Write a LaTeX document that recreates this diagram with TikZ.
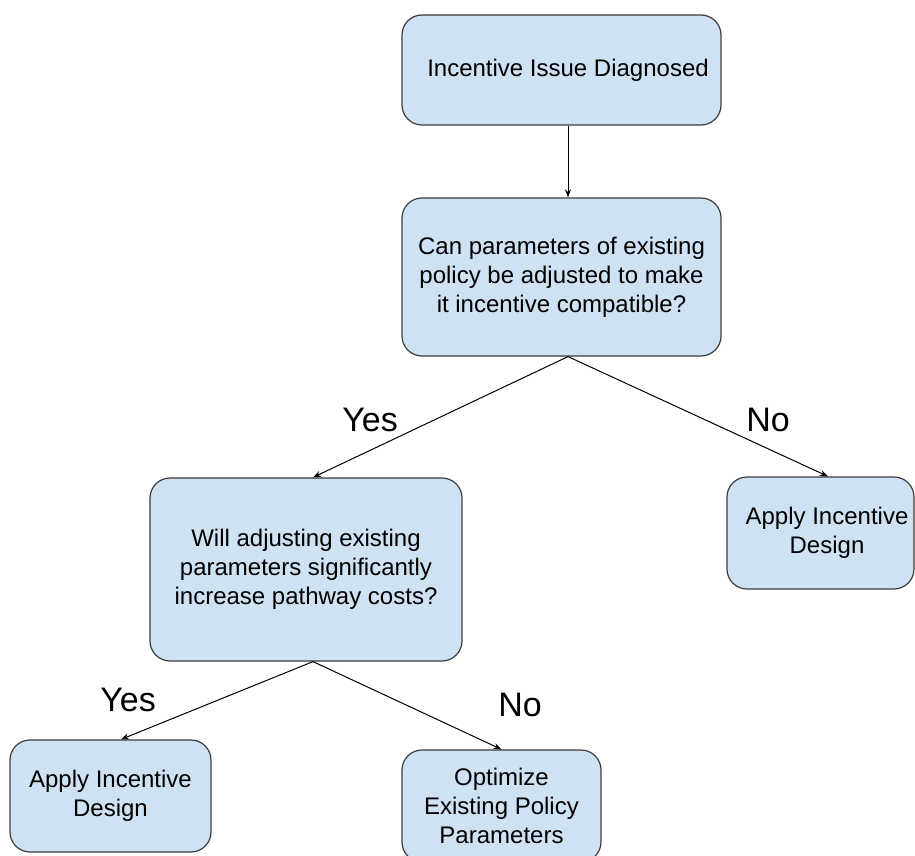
\documentclass[tikz,border=0pt]{standalone}
\usepackage{fontspec}
\setmainfont{Liberation Sans}
\usetikzlibrary{arrows.meta}
\definecolor{boxfill}{HTML}{CFE2F3}
\definecolor{boxline}{HTML}{3C3C3C}
% pushes a line of box text a little to the right
\newcommand{\nudge}{\hspace*{13pt}}
\tikzset{
  box/.style={draw=boxline, line width=1.2pt, fill=boxfill, rounded corners=20pt,
    align=center, inner sep=0pt, font=\fontsize{24}{29}\selectfont},
  arr/.style={draw=black, line width=1pt, -{Stealth[length=8pt,width=6pt]}},
  lbl/.style={font=\fontsize{34}{38}\selectfont, text=black},
}
\begin{document}
\begin{tikzpicture}[x=1pt, y=-1pt]
  \useasboundingbox (0,0) rectangle (915,856);
  \clip (0,0) rectangle (915,856);

  % decision boxes
  \node[box, minimum width=319pt, minimum height=110pt] (top) at (561.5,70)
    {\nudge Incentive Issue Diagnosed};
  \node[box, minimum width=319pt, minimum height=158pt] (q1) at (561.5,277)
    {Can parameters of existing\\policy be adjusted to make\\it incentive compatible?};
  \node[box, minimum width=312pt, minimum height=183pt] (q2) at (306,569.5)
    {Will adjusting existing\\parameters significantly\\increase pathway costs?};
  \node[box, minimum width=187pt, minimum height=112pt] (r1) at (820.5,533)
    {\nudge Apply Incentive\\\nudge Design};
  \node[box, minimum width=201pt, minimum height=112pt] (l2) at (110.5,796)
    {Apply Incentive\\Design};
  \node[box, minimum width=199pt, minimum height=112pt] (r2) at (501.5,806)
    {Optimize\\Existing Policy\\Parameters};

  % connectors
  \draw[arr] ([xshift=6.5pt]top.south) -- ([xshift=6.5pt]q1.north);
  \draw[arr] ([xshift=6.5pt]q1.south) -- ([xshift=7pt]q2.north);
  \draw[arr] ([xshift=6.5pt]q1.south) -- ([xshift=7.5pt]r1.north);
  \draw[arr] ([xshift=7pt]q2.south) -- ([xshift=10.5pt]l2.north);
  \draw[arr] ([xshift=7pt]q2.south) -- ([xshift=0pt]r2.north);

  % branch labels
  \node[lbl] (y1) at (370,420) {Yes};
  \node[lbl] (n1) at (768,420) {No};
  \node[lbl] (y2) at (128,700) {Yes};
  \node[lbl] (n2) at (520,705) {No};
\end{tikzpicture}
\end{document}
